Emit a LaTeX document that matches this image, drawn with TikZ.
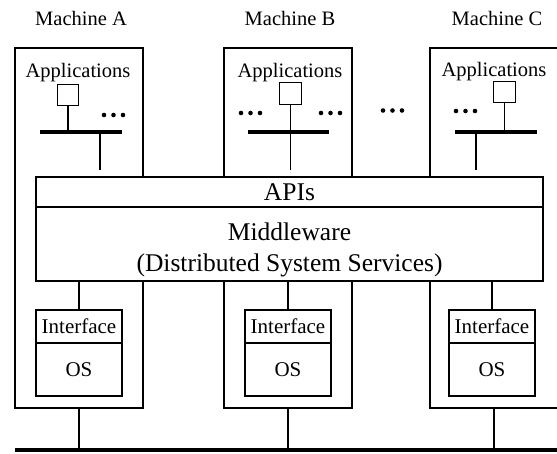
\documentclass[tikz,border=0pt]{standalone}
\usepackage{fontspec}
\setmainfont{Liberation Serif}
\usetikzlibrary{positioning}

\begin{document}
\begin{tikzpicture}[x=1pt, y=-1pt, line width=1.4pt,
   machine/.style={draw, minimum width=128pt, minimum height=360pt, inner sep=0pt},
   appbox/.style={draw, minimum size=21.5pt, inner sep=0pt},
   bus/.style={fill, minimum height=3.6pt, inner sep=0pt},
   layer/.style={draw, fill=white, inner sep=0pt, outer sep=0pt, align=center,
                 minimum width=507pt, font=\fontsize{25.5}{31}\selectfont},
   iface/.style={draw, fill=white, minimum width=86pt, inner sep=0pt, outer sep=0pt,
                 font=\fontsize{21}{24}\selectfont},
   lbl/.style={inner sep=0pt, font=\fontsize{20.5}{24}\selectfont}]
   \useasboundingbox (0,0) rectangle (557,454);

   % machines
   \node[machine] (macA) at (79,228) {};
   \node[machine] (macB) at (288,228) {};
   \node[machine] (macC) at (494,228) {};
   \node[lbl] (labA) at (81,18.5) {Machine A};
   \node[lbl] (labB) at (290,18.5) {Machine B};
   \node[lbl] (labC) at (497,18.5) {Machine C};

   % applications
   \node[lbl] (appsA) at (78,73) {Applications};
   \node[lbl] (appsB) at (290,73) {Applications};
   \node[lbl] (appsC) at (494,71.5) {Applications};
   \node[appbox] (appA) at (68,95) {};
   \node[appbox] (appB) at (290.5,93.5) {};
   \node[appbox] (appC) at (504.5,92) {};
   \node[bus, minimum width=82pt] (busA) at (81,132) {};
   \node[bus, minimum width=81pt] (busB) at (288.5,132) {};
   \node[bus, minimum width=82pt] (busC) at (496,132) {};
   \coordinate (tapA) at (100,170);
   \coordinate (tapB) at (290.5,170);
   \coordinate (tapC) at (476,170);

   \draw (appA) -- (appA |- busA.center);
   \draw (tapA |- busA.center) -- (tapA);
   \draw (appB) -- (tapB);
   \draw (appC) -- (appC |- busC.center);
   \draw (tapC |- busC.center) -- (tapC);

   % dots
   \coordinate (dA) at (104,115);
   \coordinate (dB1) at (241,113);
   \coordinate (dB2) at (321,113);
   \coordinate (dM) at (383,110.5);
   \coordinate (dC) at (456,111);
   \foreach \d in {dA, dB1, dB2, dM, dC}
      \foreach \s in {0, 9.5, 19}
         \fill ([xshift=\s pt]\d) circle (2.3);

   % middleware
   \node[layer, minimum height=30pt] (api) at (289.5,192) {APIs};
   \node[layer, minimum height=74pt, below=0pt of api] (mw)
      {\raisebox{-6pt}[\height][\depth]{\begin{tabular}{@{}c@{}}Middleware\\(Distributed System Services)\end{tabular}}};

   % operating systems
   \node[iface, minimum height=33pt] (ifA) at (79,326.5) {Interface};
   \node[iface, minimum height=53pt, below=0pt of ifA] (osA) {OS};
   \node[iface, minimum height=33pt] (ifB) at (288,326.5) {Interface};
   \node[iface, minimum height=53pt, below=0pt of ifB] (osB) {OS};
   \node[iface, minimum height=33pt] (ifC) at (492,326.5) {Interface};
   \node[iface, minimum height=53pt, below=0pt of ifC] (osC) {OS};

   \draw (mw.south -| ifA.north) -- (ifA);
   \draw (mw.south -| ifB.north) -- (ifB);
   \draw (mw.south -| ifC.north) -- (ifC);

   % network
   \node[bus, minimum width=545pt] (net) at (287.5,450) {};
   \draw (macA) -- (macA |- net.center);
   \draw (macB) -- (macB |- net.center);
   \draw (macC) -- (macC |- net.center);
\end{tikzpicture}
\end{document}
